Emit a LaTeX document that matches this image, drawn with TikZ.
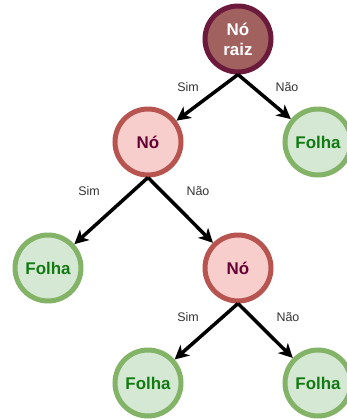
\documentclass[tikz,border=0pt]{standalone}
\usepackage{fontspec}
\setmainfont{Liberation Sans}
\usetikzlibrary{arrows.meta}
\definecolor{rootfill}{HTML}{A0615F}
\definecolor{rootdraw}{HTML}{6B1A3C}
\definecolor{nofill}{HTML}{F8CECC}
\definecolor{nodraw}{HTML}{B85450}
\definecolor{notext}{HTML}{660033}
\definecolor{leaffill}{HTML}{D5E8D4}
\definecolor{leafdraw}{HTML}{82B366}
\definecolor{leaftext}{HTML}{127A12}
\definecolor{lbltext}{HTML}{333333}
\begin{document}
\begin{tikzpicture}[x=1bp,y=-1bp,
  base/.style={circle,line width=5bp,minimum size=66bp,inner sep=0pt,font=\fontsize{17}{21}\selectfont\bfseries,align=center},
  rootnode/.style={base,fill=rootfill,draw=rootdraw,text=white},
  innode/.style={base,fill=nofill,draw=nodraw,text=notext},
  leaf/.style={base,fill=leaffill,draw=leafdraw,text=leaftext},
  edge/.style={line width=3.5bp,-{Stealth[length=14bp,width=14bp,inset=4bp]}},
  lbl/.style={font=\fontsize{12.5}{14}\selectfont,text=lbltext,inner sep=0pt}]
\useasboundingbox (0,0) rectangle (347,419);
\node[rootnode] (root) at (238,39) {Nó\\[-1bp]raiz};
\node[innode] (n1) at (148,142) {Nó};
\node[leaf] (f1) at (318,142) {Folha};
\node[leaf] (f2) at (48,268) {Folha};
\node[innode] (n2) at (238,268) {Nó};
\node[leaf] (f3) at (148,383) {Folha};
\node[leaf] (f4) at (318,383) {Folha};
\draw[edge] (root.south) -- (n1);
\draw[edge] (root.south) -- (f1);
\draw[edge] (n1.south) -- (f2);
\draw[edge] (n1.south) -- (n2);
\draw[edge] (n2.south) -- (f3);
\draw[edge] (n2.south) -- (f4);
\node[lbl] (l1) at (188,87) {Sim};
\node[lbl] (l2) at (287,87) {Não};
\node[lbl] (l3) at (89,191) {Sim};
\node[lbl] (l4) at (198,191) {Não};
\node[lbl] (l5) at (188,317) {Sim};
\node[lbl] (l6) at (288,317) {Não};
\end{tikzpicture}
\end{document}
